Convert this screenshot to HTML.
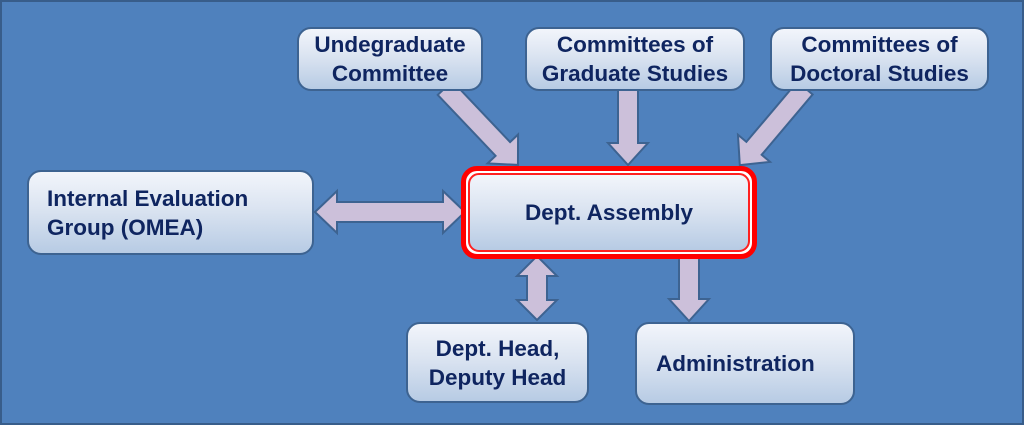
<!DOCTYPE html>
<html><head><meta charset="utf-8"><style>
html,body{margin:0;padding:0;}
body{width:1024px;height:425px;position:relative;overflow:hidden;background:#4f81bd;font-family:"Liberation Sans",sans-serif;}
.frame{position:absolute;left:0;top:0;width:1020px;height:421px;border:2px solid #385d8a;}
.box{position:absolute;box-sizing:border-box;border:2px solid #3d6391;border-radius:14px;background:linear-gradient(#f2f5fb,#dbe4f1 45%,#b7cbe4);color:#0f2560;font-weight:bold;font-size:22.5px;line-height:29px;display:flex;align-items:center;justify-content:center;text-align:center;white-space:nowrap;}
svg{position:absolute;left:0;top:0;}
</style></head><body>
<div class="frame"></div>
<svg width="1024" height="425">
<g fill="#ccc0da" stroke="#3d6391" stroke-width="2">
<polygon transform="translate(445,88) rotate(46.5)" points="0,-10 84,-10 84,-21 106,0 84,21 84,10 0,10"/>
<polygon transform="translate(805,88) rotate(130.2)" points="0,-10 79,-10 79,-21 101,0 79,21 79,10 0,10"/>
<polygon transform="translate(628,90) rotate(90)" points="0,-10 53,-10 53,-20 75,0 53,20 53,10 0,10"/>
<polygon transform="translate(689,258) rotate(90)" points="0,-10 41,-10 41,-20 63,0 41,20 41,10 0,10"/>
<polygon transform="translate(315,212)" points="0,0 22,-21 22,-10 128,-10 128,-21 150,0 128,21 128,10 22,10 22,21"/>
<polygon transform="translate(537,256) rotate(90)" points="0,0 20,-20 20,-10 44,-10 44,-20 64,0 44,20 44,10 20,10 20,20"/>
</g>
</svg>
<div class="box" style="left:297px;top:27px;width:186px;height:64px;">Undegraduate<br>Committee</div>
<div class="box" style="left:525px;top:27px;width:220px;height:64px;">Committees of<br>Graduate Studies</div>
<div class="box" style="left:770px;top:27px;width:219px;height:64px;">Committees of<br>Doctoral Studies</div>
<div class="box" style="left:27px;top:170px;width:287px;height:85px;justify-content:flex-start;text-align:left;padding-left:18px;">Internal Evaluation<br>Group (OMEA)</div>
<div style="position:absolute;left:461px;top:166px;width:296px;height:93px;box-sizing:border-box;border:5px solid #ff0000;border-radius:16px;background:#fff;"></div>
<div class="box" style="left:468px;top:173px;width:282px;height:79px;border:2px solid #ff2020;border-radius:11px;">Dept. Assembly</div>
<div class="box" style="left:406px;top:322px;width:183px;height:81px;">Dept. Head,<br>Deputy Head</div>
<div class="box" style="left:635px;top:322px;width:220px;height:83px;justify-content:flex-start;padding-left:19px;">Administration</div>
</body></html>
